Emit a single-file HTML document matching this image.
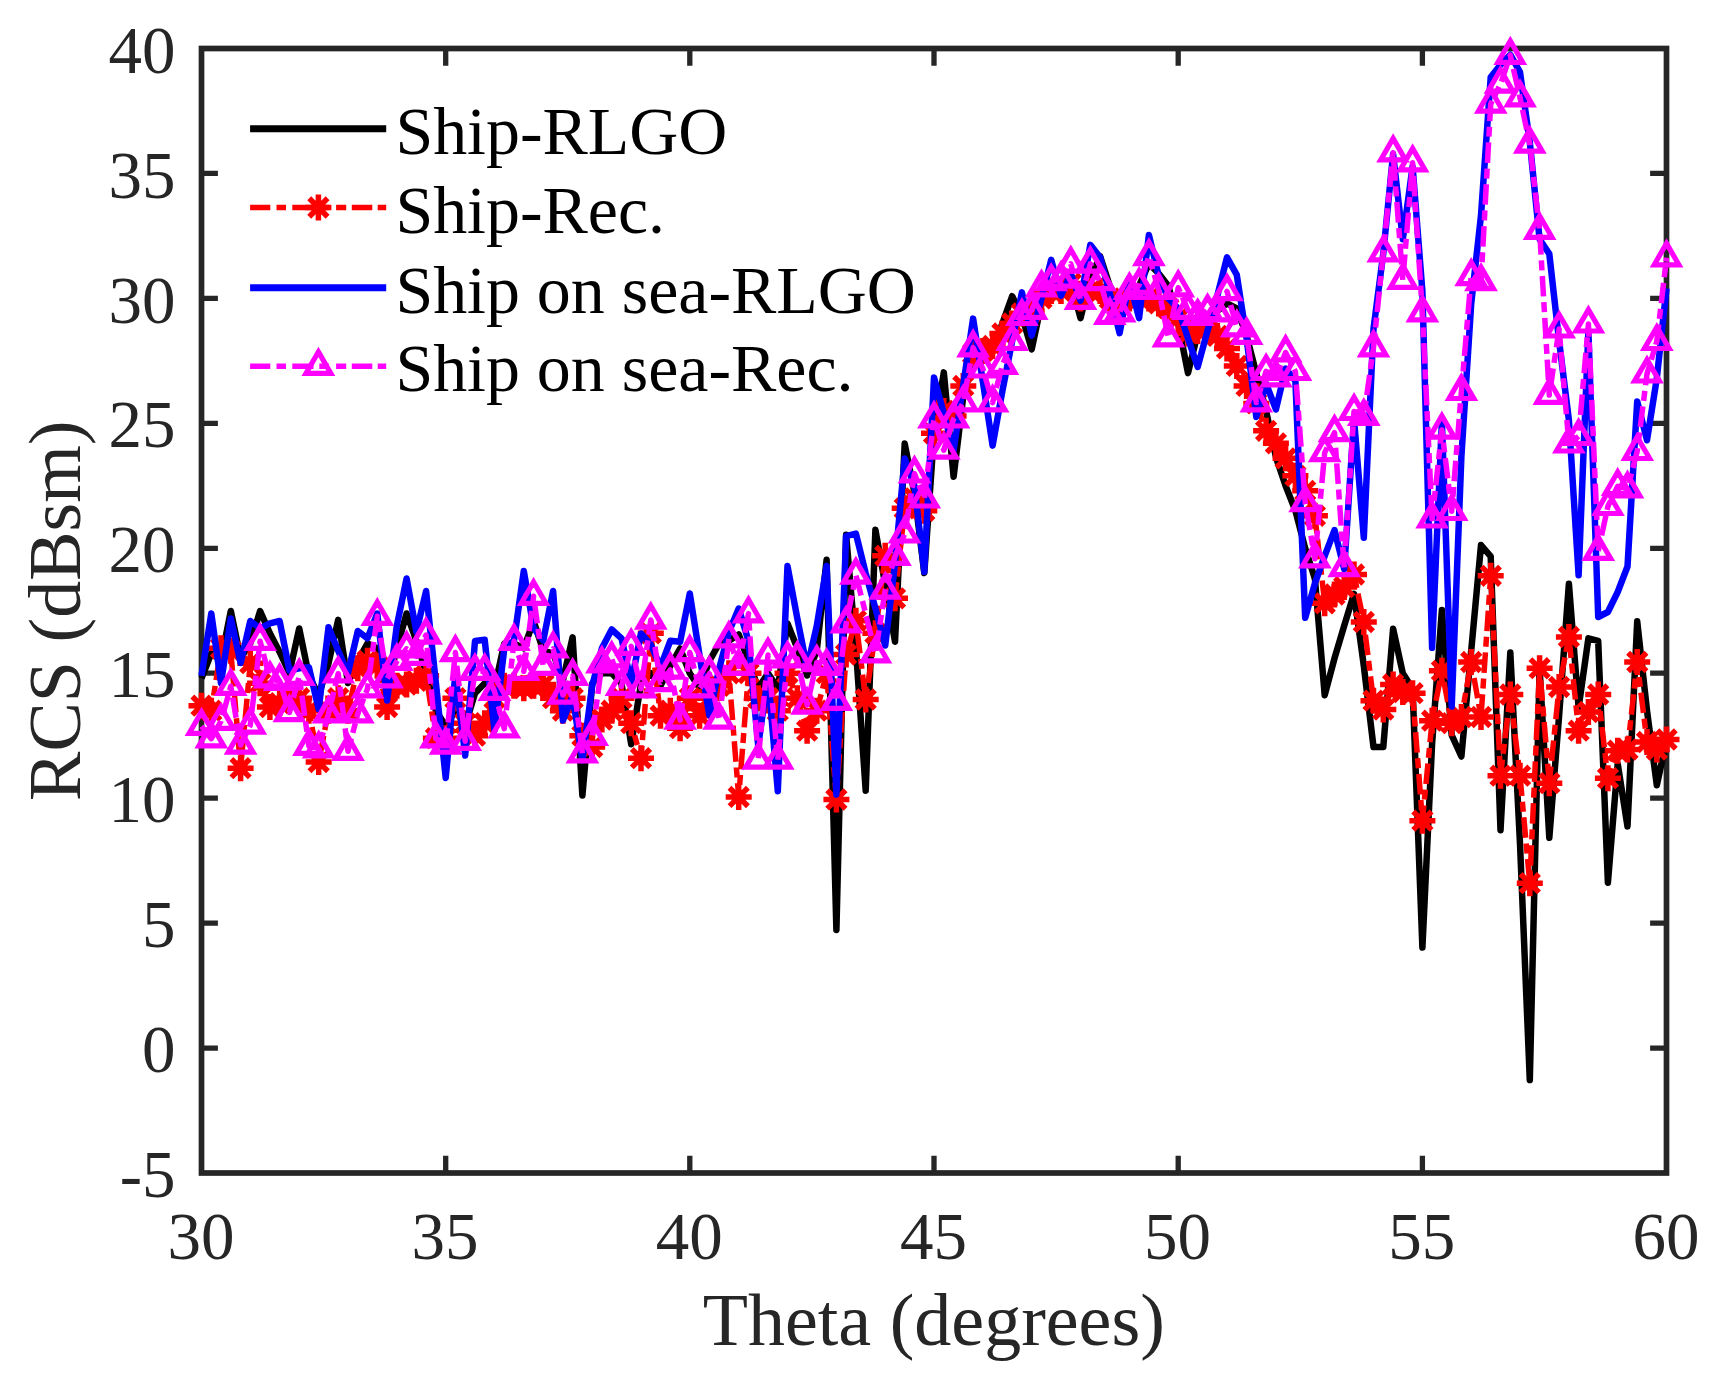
<!DOCTYPE html>
<html lang="en"><head><meta charset="utf-8"><title>RCS versus Theta</title>
<style>html,body{margin:0;padding:0;background:#fff}svg{display:block;filter:blur(0.6px)}text{font-family:"Liberation Serif","Times New Roman",serif;fill:#262626}</style></head><body>
<svg width="1722" height="1377" viewBox="0 0 1722 1377">
<rect width="1722" height="1377" fill="#fff"/>
<g fill="none" stroke-linejoin="round">
<path d="M445.7 1173.0v-17.2M445.7 48.5v17.2M689.8 1173.0v-17.2M689.8 48.5v17.2M934.0 1173.0v-17.2M934.0 48.5v17.2M1178.2 1173.0v-17.2M1178.2 48.5v17.2M1422.4 1173.0v-17.2M1422.4 48.5v17.2M201.5 1048.1h16.4M1666.5 1048.1h-16.4M201.5 923.1h16.4M1666.5 923.1h-16.4M201.5 798.2h16.4M1666.5 798.2h-16.4M201.5 673.2h16.4M1666.5 673.2h-16.4M201.5 548.3h16.4M1666.5 548.3h-16.4M201.5 423.3h16.4M1666.5 423.3h-16.4M201.5 298.4h16.4M1666.5 298.4h-16.4M201.5 173.4h16.4M1666.5 173.4h-16.4" stroke="#262626" stroke-width="5.3"/>
<rect x="201.5" y="48.5" width="1465.0" height="1124.5" stroke="#262626" stroke-width="5.7" stroke-linejoin="miter"/>
<polyline points="201.5,678.2 211.3,653.3 221.0,660.5 230.8,611.0 240.6,658.0 250.3,643.3 260.1,611.0 269.9,633.3 279.6,652.0 289.4,673.0 299.2,628.5 308.9,675.7 318.7,695.5 328.5,663.3 338.2,619.8 348.0,683.0 357.8,660.8 367.5,643.3 377.3,648.3 387.1,688.0 396.8,648.3 406.6,613.5 416.4,640.8 426.1,673.2 435.9,710.7 445.7,725.7 455.4,710.7 465.2,725.5 475.0,693.2 484.7,683.2 494.5,688.0 504.3,643.5 514.0,643.3 523.8,648.3 533.6,621.0 543.3,650.8 553.1,653.3 562.9,680.5 572.6,637.3 582.4,795.5 592.2,683.5 601.9,673.2 611.7,673.2 621.5,683.5 631.2,744.2 641.0,683.5 650.8,673.2 660.5,685.7 670.3,665.8 680.1,648.5 689.8,673.2 699.6,688.0 709.4,660.8 719.2,643.3 728.9,640.8 738.7,634.5 748.5,660.8 758.2,688.0 768.0,673.2 777.8,688.0 787.5,623.5 797.3,648.3 807.1,675.5 816.8,650.5 826.6,559.8 836.4,929.9 846.1,534.8 855.9,648.3 865.7,790.7 875.4,529.8 885.2,584.5 895.0,641.8 904.7,443.6 914.5,493.3 924.3,573.0 934.0,433.6 943.8,372.4 953.6,476.8 963.3,396.1 973.1,360.9 982.9,348.4 992.6,348.4 1002.4,323.4 1012.2,296.2 1021.9,315.9 1031.7,349.4 1041.5,303.4 1051.2,285.9 1061.0,290.9 1070.8,281.2 1080.5,318.1 1090.3,278.4 1100.1,256.2 1109.8,285.9 1119.6,303.4 1129.4,290.9 1139.1,285.9 1148.9,263.4 1158.7,273.4 1168.4,285.9 1178.2,323.4 1188.0,373.1 1197.7,333.4 1207.5,318.4 1217.3,310.9 1227.0,303.4 1236.8,308.4 1246.6,335.9 1256.3,373.4 1266.1,410.9 1275.9,457.1 1285.6,485.8 1295.4,510.8 1305.2,548.3 1314.9,578.8 1324.7,695.2 1334.5,658.3 1344.2,625.8 1354.0,593.8 1363.8,665.8 1373.5,747.0 1383.3,747.0 1393.1,628.8 1402.8,673.2 1412.6,688.7 1422.4,947.6 1432.1,743.7 1441.9,610.0 1451.7,735.2 1461.4,756.5 1471.2,650.8 1481.0,545.1 1490.7,556.3 1500.5,830.2 1510.3,652.5 1520.0,843.7 1529.8,1080.1 1539.6,668.8 1549.3,837.7 1559.1,715.7 1568.9,583.8 1578.6,707.7 1588.4,638.3 1598.2,640.8 1607.9,882.7 1617.7,763.7 1627.5,826.4 1637.2,621.3 1647.0,710.7 1656.8,785.2 1666.5,740.7" stroke="#000" stroke-width="6.5"/>
<polyline points="201.5,705.7 211.3,710.7 221.0,648.3 230.8,650.8 240.6,768.2 250.3,663.3 260.1,683.2 269.9,707.0 279.6,703.2 289.4,698.2 299.2,698.2 308.9,710.7 318.7,762.0 328.5,710.7 338.2,698.2 348.0,710.7 357.8,668.3 367.5,660.8 377.3,665.8 387.1,707.0 396.8,685.7 406.6,684.5 416.4,680.7 426.1,675.7 435.9,738.2 445.7,738.2 455.4,698.2 465.2,723.2 475.0,735.7 484.7,723.2 494.5,698.2 504.3,685.7 514.0,685.7 523.8,688.2 533.6,685.7 543.3,684.5 553.1,698.2 562.9,710.7 572.6,698.2 582.4,735.7 592.2,747.0 601.9,719.5 611.7,710.7 621.5,698.2 631.2,723.2 641.0,758.2 650.8,633.3 660.5,715.7 670.3,710.7 680.1,728.2 689.8,698.2 699.6,715.7 709.4,698.2 719.2,685.7 728.9,673.2 738.7,797.0 748.5,673.2 758.2,698.2 768.0,698.2 777.8,710.7 787.5,673.2 797.3,698.2 807.1,730.7 816.8,710.7 826.6,673.2 836.4,799.4 846.1,654.5 855.9,620.8 865.7,699.5 875.4,633.3 885.2,555.8 895.0,598.3 904.7,508.3 914.5,498.3 924.3,510.8 934.0,433.3 943.8,410.9 953.6,415.9 963.3,385.9 973.1,353.4 982.9,350.9 992.6,345.9 1002.4,333.4 1012.2,323.4 1021.9,313.4 1031.7,310.9 1041.5,298.4 1051.2,290.9 1061.0,290.9 1070.8,283.4 1080.5,298.4 1090.3,290.9 1100.1,290.9 1109.8,298.4 1119.6,303.4 1129.4,298.4 1139.1,298.4 1148.9,298.4 1158.7,303.4 1168.4,308.4 1178.2,318.4 1188.0,333.4 1197.7,330.9 1207.5,328.4 1217.3,335.9 1227.0,348.4 1236.8,365.9 1246.6,385.9 1256.3,403.4 1266.1,430.8 1275.9,443.3 1285.6,458.3 1295.4,475.8 1305.2,490.8 1314.9,515.8 1324.7,603.3 1334.5,594.5 1344.2,587.0 1354.0,574.5 1363.8,622.0 1373.5,700.7 1383.3,709.5 1393.1,684.5 1402.8,692.0 1412.6,693.2 1422.4,820.7 1432.1,720.7 1441.9,670.8 1451.7,723.2 1461.4,717.0 1471.2,662.0 1481.0,717.0 1490.7,575.8 1500.5,775.7 1510.3,694.5 1520.0,775.7 1529.8,883.2 1539.6,668.3 1549.3,783.2 1559.1,687.0 1568.9,637.0 1578.6,730.7 1588.4,712.0 1598.2,694.5 1607.9,778.2 1617.7,750.7 1627.5,749.5 1637.2,662.0 1647.0,742.0 1656.8,749.5 1666.5,739.5" stroke="#f00" stroke-width="5.5" stroke-dasharray="20.5 5.7 10 5.7"/>
<path d="M188.5 705.7h26.0M201.5 692.7v26.0M192.3 696.5l18.4 18.4M192.3 714.9l18.4 -18.4M198.3 710.7h26.0M211.3 697.7v26.0M202.1 701.5l18.4 18.4M202.1 719.9l18.4 -18.4M208.0 648.3h26.0M221.0 635.3v26.0M211.8 639.1l18.4 18.4M211.8 657.5l18.4 -18.4M217.8 650.8h26.0M230.8 637.8v26.0M221.6 641.6l18.4 18.4M221.6 660.0l18.4 -18.4M227.6 768.2h26.0M240.6 755.2v26.0M231.4 759.0l18.4 18.4M231.4 777.4l18.4 -18.4M237.3 663.3h26.0M250.3 650.3v26.0M241.1 654.1l18.4 18.4M241.1 672.4l18.4 -18.4M247.1 683.2h26.0M260.1 670.2v26.0M250.9 674.1l18.4 18.4M250.9 692.4l18.4 -18.4M256.9 707.0h26.0M269.9 694.0v26.0M260.7 697.8l18.4 18.4M260.7 716.2l18.4 -18.4M266.6 703.2h26.0M279.6 690.2v26.0M270.4 694.0l18.4 18.4M270.4 712.4l18.4 -18.4M276.4 698.2h26.0M289.4 685.2v26.0M280.2 689.0l18.4 18.4M280.2 707.4l18.4 -18.4M286.2 698.2h26.0M299.2 685.2v26.0M290.0 689.0l18.4 18.4M290.0 707.4l18.4 -18.4M295.9 710.7h26.0M308.9 697.7v26.0M299.7 701.5l18.4 18.4M299.7 719.9l18.4 -18.4M305.7 762.0h26.0M318.7 749.0v26.0M309.5 752.8l18.4 18.4M309.5 771.2l18.4 -18.4M315.5 710.7h26.0M328.5 697.7v26.0M319.3 701.5l18.4 18.4M319.3 719.9l18.4 -18.4M325.2 698.2h26.0M338.2 685.2v26.0M329.0 689.0l18.4 18.4M329.0 707.4l18.4 -18.4M335.0 710.7h26.0M348.0 697.7v26.0M338.8 701.5l18.4 18.4M338.8 719.9l18.4 -18.4M344.8 668.3h26.0M357.8 655.3v26.0M348.6 659.1l18.4 18.4M348.6 677.4l18.4 -18.4M354.5 660.8h26.0M367.5 647.8v26.0M358.3 651.6l18.4 18.4M358.3 669.9l18.4 -18.4M364.3 665.8h26.0M377.3 652.8v26.0M368.1 656.6l18.4 18.4M368.1 674.9l18.4 -18.4M374.1 707.0h26.0M387.1 694.0v26.0M377.9 697.8l18.4 18.4M377.9 716.2l18.4 -18.4M383.8 685.7h26.0M396.8 672.7v26.0M387.6 676.6l18.4 18.4M387.6 694.9l18.4 -18.4M393.6 684.5h26.0M406.6 671.5v26.0M397.4 675.3l18.4 18.4M397.4 693.7l18.4 -18.4M403.4 680.7h26.0M416.4 667.7v26.0M407.2 671.6l18.4 18.4M407.2 689.9l18.4 -18.4M413.1 675.7h26.0M426.1 662.7v26.0M416.9 666.6l18.4 18.4M416.9 684.9l18.4 -18.4M422.9 738.2h26.0M435.9 725.2v26.0M426.7 729.0l18.4 18.4M426.7 747.4l18.4 -18.4M432.7 738.2h26.0M445.7 725.2v26.0M436.5 729.0l18.4 18.4M436.5 747.4l18.4 -18.4M442.4 698.2h26.0M455.4 685.2v26.0M446.2 689.0l18.4 18.4M446.2 707.4l18.4 -18.4M452.2 723.2h26.0M465.2 710.2v26.0M456.0 714.0l18.4 18.4M456.0 732.4l18.4 -18.4M462.0 735.7h26.0M475.0 722.7v26.0M465.8 726.5l18.4 18.4M465.8 744.9l18.4 -18.4M471.7 723.2h26.0M484.7 710.2v26.0M475.6 714.0l18.4 18.4M475.6 732.4l18.4 -18.4M481.5 698.2h26.0M494.5 685.2v26.0M485.3 689.0l18.4 18.4M485.3 707.4l18.4 -18.4M491.3 685.7h26.0M504.3 672.7v26.0M495.1 676.6l18.4 18.4M495.1 694.9l18.4 -18.4M501.0 685.7h26.0M514.0 672.7v26.0M504.9 676.6l18.4 18.4M504.9 694.9l18.4 -18.4M510.8 688.2h26.0M523.8 675.2v26.0M514.6 679.1l18.4 18.4M514.6 697.4l18.4 -18.4M520.6 685.7h26.0M533.6 672.7v26.0M524.4 676.6l18.4 18.4M524.4 694.9l18.4 -18.4M530.3 684.5h26.0M543.3 671.5v26.0M534.2 675.3l18.4 18.4M534.2 693.7l18.4 -18.4M540.1 698.2h26.0M553.1 685.2v26.0M543.9 689.0l18.4 18.4M543.9 707.4l18.4 -18.4M549.9 710.7h26.0M562.9 697.7v26.0M553.7 701.5l18.4 18.4M553.7 719.9l18.4 -18.4M559.6 698.2h26.0M572.6 685.2v26.0M563.5 689.0l18.4 18.4M563.5 707.4l18.4 -18.4M569.4 735.7h26.0M582.4 722.7v26.0M573.2 726.5l18.4 18.4M573.2 744.9l18.4 -18.4M579.2 747.0h26.0M592.2 734.0v26.0M583.0 737.8l18.4 18.4M583.0 756.2l18.4 -18.4M588.9 719.5h26.0M601.9 706.5v26.0M592.8 710.3l18.4 18.4M592.8 728.7l18.4 -18.4M598.7 710.7h26.0M611.7 697.7v26.0M602.5 701.5l18.4 18.4M602.5 719.9l18.4 -18.4M608.5 698.2h26.0M621.5 685.2v26.0M612.3 689.0l18.4 18.4M612.3 707.4l18.4 -18.4M618.2 723.2h26.0M631.2 710.2v26.0M622.1 714.0l18.4 18.4M622.1 732.4l18.4 -18.4M628.0 758.2h26.0M641.0 745.2v26.0M631.8 749.0l18.4 18.4M631.8 767.4l18.4 -18.4M637.8 633.3h26.0M650.8 620.3v26.0M641.6 624.1l18.4 18.4M641.6 642.5l18.4 -18.4M647.5 715.7h26.0M660.5 702.7v26.0M651.4 706.5l18.4 18.4M651.4 724.9l18.4 -18.4M657.3 710.7h26.0M670.3 697.7v26.0M661.1 701.5l18.4 18.4M661.1 719.9l18.4 -18.4M667.1 728.2h26.0M680.1 715.2v26.0M670.9 719.0l18.4 18.4M670.9 737.4l18.4 -18.4M676.8 698.2h26.0M689.8 685.2v26.0M680.7 689.0l18.4 18.4M680.7 707.4l18.4 -18.4M686.6 715.7h26.0M699.6 702.7v26.0M690.4 706.5l18.4 18.4M690.4 724.9l18.4 -18.4M696.4 698.2h26.0M709.4 685.2v26.0M700.2 689.0l18.4 18.4M700.2 707.4l18.4 -18.4M706.2 685.7h26.0M719.2 672.7v26.0M710.0 676.6l18.4 18.4M710.0 694.9l18.4 -18.4M715.9 673.2h26.0M728.9 660.2v26.0M719.7 664.1l18.4 18.4M719.7 682.4l18.4 -18.4M725.7 797.0h26.0M738.7 784.0v26.0M729.5 787.8l18.4 18.4M729.5 806.1l18.4 -18.4M735.5 673.2h26.0M748.5 660.2v26.0M739.3 664.1l18.4 18.4M739.3 682.4l18.4 -18.4M745.2 698.2h26.0M758.2 685.2v26.0M749.0 689.0l18.4 18.4M749.0 707.4l18.4 -18.4M755.0 698.2h26.0M768.0 685.2v26.0M758.8 689.0l18.4 18.4M758.8 707.4l18.4 -18.4M764.8 710.7h26.0M777.8 697.7v26.0M768.6 701.5l18.4 18.4M768.6 719.9l18.4 -18.4M774.5 673.2h26.0M787.5 660.2v26.0M778.3 664.1l18.4 18.4M778.3 682.4l18.4 -18.4M784.3 698.2h26.0M797.3 685.2v26.0M788.1 689.0l18.4 18.4M788.1 707.4l18.4 -18.4M794.1 730.7h26.0M807.1 717.7v26.0M797.9 721.5l18.4 18.4M797.9 739.9l18.4 -18.4M803.8 710.7h26.0M816.8 697.7v26.0M807.6 701.5l18.4 18.4M807.6 719.9l18.4 -18.4M813.6 673.2h26.0M826.6 660.2v26.0M817.4 664.1l18.4 18.4M817.4 682.4l18.4 -18.4M823.4 799.4h26.0M836.4 786.4v26.0M827.2 790.3l18.4 18.4M827.2 808.6l18.4 -18.4M833.1 654.5h26.0M846.1 641.5v26.0M836.9 645.3l18.4 18.4M836.9 663.7l18.4 -18.4M842.9 620.8h26.0M855.9 607.8v26.0M846.7 611.6l18.4 18.4M846.7 630.0l18.4 -18.4M852.7 699.5h26.0M865.7 686.5v26.0M856.5 690.3l18.4 18.4M856.5 708.7l18.4 -18.4M862.4 633.3h26.0M875.4 620.3v26.0M866.2 624.1l18.4 18.4M866.2 642.5l18.4 -18.4M872.2 555.8h26.0M885.2 542.8v26.0M876.0 546.6l18.4 18.4M876.0 565.0l18.4 -18.4M882.0 598.3h26.0M895.0 585.3v26.0M885.8 589.1l18.4 18.4M885.8 607.5l18.4 -18.4M891.7 508.3h26.0M904.7 495.3v26.0M895.5 499.1l18.4 18.4M895.5 517.5l18.4 -18.4M901.5 498.3h26.0M914.5 485.3v26.0M905.3 489.1l18.4 18.4M905.3 507.5l18.4 -18.4M911.3 510.8h26.0M924.3 497.8v26.0M915.1 501.6l18.4 18.4M915.1 520.0l18.4 -18.4M921.0 433.3h26.0M934.0 420.3v26.0M924.8 424.2l18.4 18.4M924.8 442.5l18.4 -18.4M930.8 410.9h26.0M943.8 397.9v26.0M934.6 401.7l18.4 18.4M934.6 420.0l18.4 -18.4M940.6 415.9h26.0M953.6 402.9v26.0M944.4 406.7l18.4 18.4M944.4 425.0l18.4 -18.4M950.3 385.9h26.0M963.3 372.9v26.0M954.1 376.7l18.4 18.4M954.1 395.1l18.4 -18.4M960.1 353.4h26.0M973.1 340.4v26.0M963.9 344.2l18.4 18.4M963.9 362.6l18.4 -18.4M969.9 350.9h26.0M982.9 337.9v26.0M973.7 341.7l18.4 18.4M973.7 360.1l18.4 -18.4M979.6 345.9h26.0M992.6 332.9v26.0M983.4 336.7l18.4 18.4M983.4 355.1l18.4 -18.4M989.4 333.4h26.0M1002.4 320.4v26.0M993.2 324.2l18.4 18.4M993.2 342.6l18.4 -18.4M999.2 323.4h26.0M1012.2 310.4v26.0M1003.0 314.2l18.4 18.4M1003.0 332.6l18.4 -18.4M1008.9 313.4h26.0M1021.9 300.4v26.0M1012.7 304.2l18.4 18.4M1012.7 322.6l18.4 -18.4M1018.7 310.9h26.0M1031.7 297.9v26.0M1022.5 301.7l18.4 18.4M1022.5 320.1l18.4 -18.4M1028.5 298.4h26.0M1041.5 285.4v26.0M1032.3 289.2l18.4 18.4M1032.3 307.6l18.4 -18.4M1038.2 290.9h26.0M1051.2 277.9v26.0M1042.0 281.7l18.4 18.4M1042.0 300.1l18.4 -18.4M1048.0 290.9h26.0M1061.0 277.9v26.0M1051.8 281.7l18.4 18.4M1051.8 300.1l18.4 -18.4M1057.8 283.4h26.0M1070.8 270.4v26.0M1061.6 274.2l18.4 18.4M1061.6 292.6l18.4 -18.4M1067.5 298.4h26.0M1080.5 285.4v26.0M1071.3 289.2l18.4 18.4M1071.3 307.6l18.4 -18.4M1077.3 290.9h26.0M1090.3 277.9v26.0M1081.1 281.7l18.4 18.4M1081.1 300.1l18.4 -18.4M1087.1 290.9h26.0M1100.1 277.9v26.0M1090.9 281.7l18.4 18.4M1090.9 300.1l18.4 -18.4M1096.8 298.4h26.0M1109.8 285.4v26.0M1100.6 289.2l18.4 18.4M1100.6 307.6l18.4 -18.4M1106.6 303.4h26.0M1119.6 290.4v26.0M1110.4 294.2l18.4 18.4M1110.4 312.6l18.4 -18.4M1116.4 298.4h26.0M1129.4 285.4v26.0M1120.2 289.2l18.4 18.4M1120.2 307.6l18.4 -18.4M1126.1 298.4h26.0M1139.1 285.4v26.0M1129.9 289.2l18.4 18.4M1129.9 307.6l18.4 -18.4M1135.9 298.4h26.0M1148.9 285.4v26.0M1139.7 289.2l18.4 18.4M1139.7 307.6l18.4 -18.4M1145.7 303.4h26.0M1158.7 290.4v26.0M1149.5 294.2l18.4 18.4M1149.5 312.6l18.4 -18.4M1155.4 308.4h26.0M1168.4 295.4v26.0M1159.2 299.2l18.4 18.4M1159.2 317.6l18.4 -18.4M1165.2 318.4h26.0M1178.2 305.4v26.0M1169.0 309.2l18.4 18.4M1169.0 327.6l18.4 -18.4M1175.0 333.4h26.0M1188.0 320.4v26.0M1178.8 324.2l18.4 18.4M1178.8 342.6l18.4 -18.4M1184.7 330.9h26.0M1197.7 317.9v26.0M1188.5 321.7l18.4 18.4M1188.5 340.1l18.4 -18.4M1194.5 328.4h26.0M1207.5 315.4v26.0M1198.3 319.2l18.4 18.4M1198.3 337.6l18.4 -18.4M1204.3 335.9h26.0M1217.3 322.9v26.0M1208.1 326.7l18.4 18.4M1208.1 345.1l18.4 -18.4M1214.0 348.4h26.0M1227.0 335.4v26.0M1217.8 339.2l18.4 18.4M1217.8 357.6l18.4 -18.4M1223.8 365.9h26.0M1236.8 352.9v26.0M1227.6 356.7l18.4 18.4M1227.6 375.1l18.4 -18.4M1233.6 385.9h26.0M1246.6 372.9v26.0M1237.4 376.7l18.4 18.4M1237.4 395.1l18.4 -18.4M1243.3 403.4h26.0M1256.3 390.4v26.0M1247.1 394.2l18.4 18.4M1247.1 412.6l18.4 -18.4M1253.1 430.8h26.0M1266.1 417.8v26.0M1256.9 421.7l18.4 18.4M1256.9 440.0l18.4 -18.4M1262.9 443.3h26.0M1275.9 430.3v26.0M1266.7 434.1l18.4 18.4M1266.7 452.5l18.4 -18.4M1272.6 458.3h26.0M1285.6 445.3v26.0M1276.4 449.1l18.4 18.4M1276.4 467.5l18.4 -18.4M1282.4 475.8h26.0M1295.4 462.8v26.0M1286.2 466.6l18.4 18.4M1286.2 485.0l18.4 -18.4M1292.2 490.8h26.0M1305.2 477.8v26.0M1296.0 481.6l18.4 18.4M1296.0 500.0l18.4 -18.4M1301.9 515.8h26.0M1314.9 502.8v26.0M1305.7 506.6l18.4 18.4M1305.7 525.0l18.4 -18.4M1311.7 603.3h26.0M1324.7 590.3v26.0M1315.5 594.1l18.4 18.4M1315.5 612.5l18.4 -18.4M1321.5 594.5h26.0M1334.5 581.5v26.0M1325.3 585.3l18.4 18.4M1325.3 603.7l18.4 -18.4M1331.2 587.0h26.0M1344.2 574.0v26.0M1335.0 577.8l18.4 18.4M1335.0 596.2l18.4 -18.4M1341.0 574.5h26.0M1354.0 561.5v26.0M1344.8 565.3l18.4 18.4M1344.8 583.7l18.4 -18.4M1350.8 622.0h26.0M1363.8 609.0v26.0M1354.6 612.8l18.4 18.4M1354.6 631.2l18.4 -18.4M1360.5 700.7h26.0M1373.5 687.7v26.0M1364.3 691.5l18.4 18.4M1364.3 709.9l18.4 -18.4M1370.3 709.5h26.0M1383.3 696.5v26.0M1374.1 700.3l18.4 18.4M1374.1 718.7l18.4 -18.4M1380.1 684.5h26.0M1393.1 671.5v26.0M1383.9 675.3l18.4 18.4M1383.9 693.7l18.4 -18.4M1389.8 692.0h26.0M1402.8 679.0v26.0M1393.6 682.8l18.4 18.4M1393.6 701.2l18.4 -18.4M1399.6 693.2h26.0M1412.6 680.2v26.0M1403.4 684.0l18.4 18.4M1403.4 702.4l18.4 -18.4M1409.4 820.7h26.0M1422.4 807.7v26.0M1413.2 811.5l18.4 18.4M1413.2 829.9l18.4 -18.4M1419.1 720.7h26.0M1432.1 707.7v26.0M1422.9 711.5l18.4 18.4M1422.9 729.9l18.4 -18.4M1428.9 670.8h26.0M1441.9 657.8v26.0M1432.7 661.6l18.4 18.4M1432.7 679.9l18.4 -18.4M1438.7 723.2h26.0M1451.7 710.2v26.0M1442.5 714.0l18.4 18.4M1442.5 732.4l18.4 -18.4M1448.4 717.0h26.0M1461.4 704.0v26.0M1452.3 707.8l18.4 18.4M1452.3 726.2l18.4 -18.4M1458.2 662.0h26.0M1471.2 649.0v26.0M1462.0 652.8l18.4 18.4M1462.0 671.2l18.4 -18.4M1468.0 717.0h26.0M1481.0 704.0v26.0M1471.8 707.8l18.4 18.4M1471.8 726.2l18.4 -18.4M1477.7 575.8h26.0M1490.7 562.8v26.0M1481.6 566.6l18.4 18.4M1481.6 585.0l18.4 -18.4M1487.5 775.7h26.0M1500.5 762.7v26.0M1491.3 766.5l18.4 18.4M1491.3 784.9l18.4 -18.4M1497.3 694.5h26.0M1510.3 681.5v26.0M1501.1 685.3l18.4 18.4M1501.1 703.7l18.4 -18.4M1507.0 775.7h26.0M1520.0 762.7v26.0M1510.9 766.5l18.4 18.4M1510.9 784.9l18.4 -18.4M1516.8 883.2h26.0M1529.8 870.2v26.0M1520.6 874.0l18.4 18.4M1520.6 892.4l18.4 -18.4M1526.6 668.3h26.0M1539.6 655.3v26.0M1530.4 659.1l18.4 18.4M1530.4 677.4l18.4 -18.4M1536.3 783.2h26.0M1549.3 770.2v26.0M1540.2 774.0l18.4 18.4M1540.2 792.4l18.4 -18.4M1546.1 687.0h26.0M1559.1 674.0v26.0M1549.9 677.8l18.4 18.4M1549.9 696.2l18.4 -18.4M1555.9 637.0h26.0M1568.9 624.0v26.0M1559.7 627.8l18.4 18.4M1559.7 646.2l18.4 -18.4M1565.6 730.7h26.0M1578.6 717.7v26.0M1569.5 721.5l18.4 18.4M1569.5 739.9l18.4 -18.4M1575.4 712.0h26.0M1588.4 699.0v26.0M1579.2 702.8l18.4 18.4M1579.2 721.2l18.4 -18.4M1585.2 694.5h26.0M1598.2 681.5v26.0M1589.0 685.3l18.4 18.4M1589.0 703.7l18.4 -18.4M1594.9 778.2h26.0M1607.9 765.2v26.0M1598.8 769.0l18.4 18.4M1598.8 787.4l18.4 -18.4M1604.7 750.7h26.0M1617.7 737.7v26.0M1608.5 741.5l18.4 18.4M1608.5 759.9l18.4 -18.4M1614.5 749.5h26.0M1627.5 736.5v26.0M1618.3 740.3l18.4 18.4M1618.3 758.7l18.4 -18.4M1624.2 662.0h26.0M1637.2 649.0v26.0M1628.1 652.8l18.4 18.4M1628.1 671.2l18.4 -18.4M1634.0 742.0h26.0M1647.0 729.0v26.0M1637.8 732.8l18.4 18.4M1637.8 751.2l18.4 -18.4M1643.8 749.5h26.0M1656.8 736.5v26.0M1647.6 740.3l18.4 18.4M1647.6 758.7l18.4 -18.4M1653.5 739.5h26.0M1666.5 726.5v26.0M1657.4 730.3l18.4 18.4M1657.4 748.7l18.4 -18.4" stroke="#f00" stroke-width="5.5"/>
<polyline points="201.5,675.7 211.3,613.5 221.0,683.0 230.8,618.5 240.6,663.0 250.3,621.0 260.1,628.3 269.9,623.3 279.6,621.0 289.4,670.5 299.2,668.3 308.9,667.3 318.7,709.2 328.5,627.3 338.2,650.8 348.0,673.0 357.8,631.0 367.5,638.3 377.3,613.5 387.1,700.5 396.8,625.8 406.6,578.5 416.4,631.8 426.1,591.0 435.9,683.2 445.7,778.0 455.4,673.5 465.2,755.5 475.0,641.0 484.7,639.8 494.5,730.5 504.3,648.5 514.0,640.5 523.8,571.0 533.6,628.0 543.3,640.5 553.1,591.0 562.9,720.5 572.6,696.0 582.4,760.5 592.2,685.7 601.9,648.3 611.7,629.5 621.5,638.3 631.2,683.0 641.0,633.5 650.8,644.5 660.5,666.8 670.3,640.8 680.1,641.8 689.8,593.5 699.6,655.8 709.4,715.5 719.2,668.3 728.9,632.0 738.7,608.5 748.5,641.0 758.2,745.5 768.0,676.0 777.8,791.2 787.5,566.0 797.3,618.3 807.1,668.0 816.8,625.8 826.6,566.0 836.4,794.5 846.1,536.1 855.9,533.6 865.7,573.3 875.4,608.3 885.2,645.5 895.0,563.3 904.7,458.6 914.5,486.1 924.3,571.8 934.0,377.4 943.8,413.4 953.6,450.6 963.3,384.6 973.1,318.6 982.9,382.1 992.6,445.6 1002.4,390.9 1012.2,340.9 1021.9,292.4 1031.7,335.6 1041.5,298.4 1051.2,259.9 1061.0,295.7 1070.8,273.7 1080.5,300.6 1090.3,244.9 1100.1,257.2 1109.8,293.4 1119.6,333.1 1129.4,281.2 1139.1,318.1 1148.9,234.9 1158.7,275.9 1168.4,298.4 1178.2,308.4 1188.0,338.4 1197.7,366.9 1207.5,330.9 1217.3,295.9 1227.0,257.4 1236.8,274.9 1246.6,338.4 1256.3,416.9 1266.1,383.6 1275.9,409.4 1285.6,368.6 1295.4,381.1 1305.2,617.8 1314.9,583.3 1324.7,555.8 1334.5,530.1 1344.2,569.0 1354.0,418.9 1363.8,537.8 1373.5,328.9 1383.3,253.4 1393.1,154.0 1402.8,239.2 1412.6,166.5 1422.4,291.4 1432.1,647.8 1441.9,421.4 1451.7,706.5 1461.4,456.3 1471.2,303.9 1481.0,215.4 1490.7,77.2 1500.5,64.7 1510.3,54.7 1520.0,72.2 1529.8,142.2 1539.6,239.2 1549.3,253.9 1559.1,340.9 1568.9,420.1 1578.6,575.3 1588.4,331.4 1598.2,617.0 1607.9,612.0 1617.7,592.0 1627.5,566.5 1637.2,401.4 1647.0,440.3 1656.8,378.4 1666.5,288.4" stroke="#00f" stroke-width="6.5"/>
<polyline points="201.5,726.2 211.3,738.7 221.0,721.2 230.8,686.2 240.6,745.0 250.3,725.0 260.1,641.3 269.9,678.7 279.6,681.2 289.4,712.5 299.2,676.2 308.9,746.2 318.7,748.7 328.5,713.7 338.2,673.7 348.0,751.2 357.8,713.7 367.5,688.7 377.3,616.3 387.1,678.7 396.8,661.3 406.6,648.8 416.4,656.3 426.1,635.0 435.9,738.7 445.7,745.0 455.4,652.5 465.2,741.2 475.0,671.3 484.7,671.3 494.5,691.2 504.3,728.7 514.0,641.3 523.8,671.3 533.6,596.3 543.3,666.3 553.1,648.8 562.9,695.0 572.6,676.2 582.4,753.7 592.2,736.2 601.9,663.8 611.7,658.8 621.5,686.2 631.2,646.3 641.0,688.7 650.8,620.0 660.5,682.5 670.3,670.0 680.1,720.0 689.8,652.5 699.6,688.7 709.4,673.7 719.2,720.0 728.9,638.8 738.7,666.3 748.5,613.8 758.2,760.0 768.0,655.0 777.8,760.0 787.5,658.8 797.3,658.8 807.1,705.0 816.8,662.5 826.6,666.3 836.4,701.2 846.1,623.8 855.9,575.0 865.7,613.8 875.4,653.8 885.2,590.0 895.0,556.3 904.7,533.8 914.5,473.8 924.3,498.8 934.0,418.9 943.8,450.1 953.6,418.9 963.3,402.6 973.1,347.6 982.9,368.9 992.6,402.6 1002.4,365.1 1012.2,341.4 1021.9,316.4 1031.7,310.1 1041.5,287.7 1051.2,281.4 1061.0,278.9 1070.8,263.9 1080.5,300.1 1090.3,263.9 1100.1,281.4 1109.8,315.1 1119.6,312.6 1129.4,290.2 1139.1,285.2 1148.9,256.4 1158.7,290.2 1168.4,337.6 1178.2,287.7 1188.0,310.1 1197.7,316.4 1207.5,311.4 1217.3,312.6 1227.0,291.4 1236.8,327.6 1246.6,335.1 1256.3,402.6 1266.1,371.4 1275.9,377.6 1285.6,352.6 1295.4,371.4 1305.2,502.6 1314.9,558.8 1324.7,452.6 1334.5,432.6 1344.2,567.5 1354.0,411.4 1363.8,416.4 1373.5,347.6 1383.3,252.7 1393.1,152.7 1402.8,280.2 1412.6,162.7 1422.4,312.6 1432.1,518.8 1441.9,430.1 1451.7,511.3 1461.4,391.4 1471.2,276.4 1481.0,281.4 1490.7,104.0 1500.5,84.0 1510.3,55.2 1520.0,97.7 1529.8,144.0 1539.6,230.2 1549.3,395.1 1559.1,328.9 1568.9,443.8 1578.6,436.3 1588.4,323.9 1598.2,551.3 1607.9,506.3 1617.7,486.3 1627.5,488.8 1637.2,451.3 1647.0,373.9 1656.8,341.4 1666.5,257.7" stroke="#f0f" stroke-width="5.5" stroke-dasharray="20.5 5.7 10 5.7"/>
<path d="M201.5 711.9L213.9 733.4L189.1 733.4ZM211.3 724.4L223.7 745.9L198.9 745.9ZM221.0 706.9L233.4 728.4L208.6 728.4ZM230.8 671.9L243.2 693.4L218.4 693.4ZM240.6 730.7L253.0 752.1L228.2 752.1ZM250.3 710.7L262.7 732.1L238.0 732.1ZM260.1 627.0L272.5 648.4L247.7 648.4ZM269.9 664.4L282.3 685.9L257.5 685.9ZM279.6 666.9L292.0 688.4L267.3 688.4ZM289.4 698.2L301.8 719.6L277.0 719.6ZM299.2 661.9L311.6 683.4L286.8 683.4ZM308.9 731.9L321.3 753.4L296.6 753.4ZM318.7 734.4L331.1 755.9L306.3 755.9ZM328.5 699.4L340.9 720.9L316.1 720.9ZM338.2 659.4L350.6 680.9L325.9 680.9ZM348.0 736.9L360.4 758.4L335.6 758.4ZM357.8 699.4L370.2 720.9L345.4 720.9ZM367.5 674.4L379.9 695.9L355.2 695.9ZM377.3 602.0L389.7 623.4L364.9 623.4ZM387.1 664.4L399.5 685.9L374.7 685.9ZM396.8 647.0L409.2 668.4L384.5 668.4ZM406.6 634.5L419.0 655.9L394.2 655.9ZM416.4 642.0L428.8 663.4L404.0 663.4ZM426.1 620.7L438.5 642.2L413.8 642.2ZM435.9 724.4L448.3 745.9L423.5 745.9ZM445.7 730.7L458.1 752.1L433.3 752.1ZM455.4 638.2L467.8 659.7L443.1 659.7ZM465.2 726.9L477.6 748.4L452.8 748.4ZM475.0 657.0L487.4 678.4L462.6 678.4ZM484.7 657.0L497.1 678.4L472.4 678.4ZM494.5 676.9L506.9 698.4L482.1 698.4ZM504.3 714.4L516.7 735.9L491.9 735.9ZM514.0 627.0L526.4 648.4L501.7 648.4ZM523.8 657.0L536.2 678.4L511.4 678.4ZM533.6 582.0L546.0 603.4L521.2 603.4ZM543.3 652.0L555.7 673.4L531.0 673.4ZM553.1 634.5L565.5 655.9L540.7 655.9ZM562.9 680.7L575.3 702.1L550.5 702.1ZM572.6 661.9L585.0 683.4L560.3 683.4ZM582.4 739.4L594.8 760.9L570.0 760.9ZM592.2 721.9L604.6 743.4L579.8 743.4ZM601.9 649.5L614.3 670.9L589.6 670.9ZM611.7 644.5L624.1 665.9L599.3 665.9ZM621.5 671.9L633.9 693.4L609.1 693.4ZM631.2 632.0L643.6 653.4L618.9 653.4ZM641.0 674.4L653.4 695.9L628.6 695.9ZM650.8 605.7L663.2 627.2L638.4 627.2ZM660.5 668.2L672.9 689.6L648.2 689.6ZM670.3 655.7L682.7 677.2L657.9 677.2ZM680.1 705.7L692.5 727.1L667.7 727.1ZM689.8 638.2L702.2 659.7L677.5 659.7ZM699.6 674.4L712.0 695.9L687.2 695.9ZM709.4 659.4L721.8 680.9L697.0 680.9ZM719.2 705.7L731.5 727.1L706.8 727.1ZM728.9 624.5L741.3 645.9L716.5 645.9ZM738.7 652.0L751.1 673.4L726.3 673.4ZM748.5 599.5L760.8 620.9L736.1 620.9ZM758.2 745.7L770.6 767.1L745.8 767.1ZM768.0 640.7L780.4 662.2L755.6 662.2ZM777.8 745.7L790.1 767.1L765.4 767.1ZM787.5 644.5L799.9 665.9L775.1 665.9ZM797.3 644.5L809.7 665.9L784.9 665.9ZM807.1 690.7L819.4 712.1L794.7 712.1ZM816.8 648.2L829.2 669.7L804.4 669.7ZM826.6 652.0L839.0 673.4L814.2 673.4ZM836.4 686.9L848.7 708.4L824.0 708.4ZM846.1 609.5L858.5 630.9L833.7 630.9ZM855.9 560.7L868.3 582.2L843.5 582.2ZM875.4 639.5L887.8 660.9L863.0 660.9ZM885.2 575.7L897.6 597.2L872.8 597.2ZM895.0 542.0L907.3 563.4L882.6 563.4ZM904.7 519.5L917.1 541.0L892.3 541.0ZM914.5 459.5L926.9 481.0L902.1 481.0ZM924.3 484.5L936.6 506.0L911.9 506.0ZM934.0 404.6L946.4 426.0L921.6 426.0ZM943.8 435.8L956.2 457.2L931.4 457.2ZM953.6 404.6L965.9 426.0L941.2 426.0ZM963.3 388.3L975.7 409.8L950.9 409.8ZM973.1 333.3L985.5 354.8L960.7 354.8ZM982.9 354.6L995.2 376.0L970.5 376.0ZM992.6 388.3L1005.0 409.8L980.2 409.8ZM1002.4 350.8L1014.8 372.3L990.0 372.3ZM1012.2 327.1L1024.5 348.5L999.8 348.5ZM1021.9 302.1L1034.3 323.5L1009.5 323.5ZM1031.7 295.8L1044.1 317.3L1019.3 317.3ZM1041.5 273.4L1053.8 294.8L1029.1 294.8ZM1051.2 267.1L1063.6 288.6L1038.8 288.6ZM1061.0 264.6L1073.4 286.1L1048.6 286.1ZM1070.8 249.6L1083.1 271.1L1058.4 271.1ZM1080.5 285.8L1092.9 307.3L1068.1 307.3ZM1090.3 249.6L1102.7 271.1L1077.9 271.1ZM1100.1 267.1L1112.4 288.6L1087.7 288.6ZM1109.8 300.8L1122.2 322.3L1097.4 322.3ZM1119.6 298.3L1132.0 319.8L1107.2 319.8ZM1129.4 275.9L1141.7 297.3L1117.0 297.3ZM1139.1 270.9L1151.5 292.3L1126.7 292.3ZM1148.9 242.1L1161.3 263.6L1136.5 263.6ZM1158.7 275.9L1171.1 297.3L1146.3 297.3ZM1168.4 323.3L1180.8 344.8L1156.0 344.8ZM1178.2 273.4L1190.6 294.8L1165.8 294.8ZM1188.0 295.8L1200.4 317.3L1175.6 317.3ZM1197.7 302.1L1210.1 323.5L1185.3 323.5ZM1207.5 297.1L1219.9 318.5L1195.1 318.5ZM1217.3 298.3L1229.7 319.8L1204.9 319.8ZM1227.0 277.1L1239.4 298.6L1214.7 298.6ZM1236.8 313.3L1249.2 334.8L1224.4 334.8ZM1246.6 320.8L1259.0 342.3L1234.2 342.3ZM1256.3 388.3L1268.7 409.8L1244.0 409.8ZM1266.1 357.1L1278.5 378.5L1253.7 378.5ZM1275.9 363.3L1288.3 384.8L1263.5 384.8ZM1285.6 338.3L1298.0 359.8L1273.3 359.8ZM1295.4 357.1L1307.8 378.5L1283.0 378.5ZM1305.2 488.3L1317.6 509.7L1292.8 509.7ZM1314.9 544.5L1327.3 565.9L1302.6 565.9ZM1324.7 438.3L1337.1 459.7L1312.3 459.7ZM1334.5 418.3L1346.9 439.7L1322.1 439.7ZM1344.2 553.2L1356.6 574.7L1331.9 574.7ZM1354.0 397.1L1366.4 418.5L1341.6 418.5ZM1363.8 402.1L1376.2 423.5L1351.4 423.5ZM1373.5 333.3L1385.9 354.8L1361.2 354.8ZM1383.3 238.4L1395.7 259.8L1370.9 259.8ZM1393.1 138.4L1405.5 159.9L1380.7 159.9ZM1402.8 265.9L1415.2 287.3L1390.5 287.3ZM1412.6 148.4L1425.0 169.9L1400.2 169.9ZM1422.4 298.3L1434.8 319.8L1410.0 319.8ZM1432.1 504.5L1444.5 526.0L1419.8 526.0ZM1441.9 415.8L1454.3 437.2L1429.5 437.2ZM1451.7 497.0L1464.1 518.5L1439.3 518.5ZM1461.4 377.1L1473.8 398.5L1449.1 398.5ZM1471.2 262.1L1483.6 283.6L1458.8 283.6ZM1481.0 267.1L1493.4 288.6L1468.6 288.6ZM1490.7 89.7L1503.1 111.1L1478.4 111.1ZM1500.5 69.7L1512.9 91.1L1488.1 91.1ZM1510.3 40.9L1522.7 62.4L1497.9 62.4ZM1520.0 83.4L1532.4 104.9L1507.7 104.9ZM1529.8 129.7L1542.2 151.1L1517.4 151.1ZM1539.6 215.9L1552.0 237.3L1527.2 237.3ZM1549.3 380.8L1561.7 402.3L1537.0 402.3ZM1559.1 314.6L1571.5 336.0L1546.7 336.0ZM1568.9 429.5L1581.3 451.0L1556.5 451.0ZM1578.6 422.0L1591.0 443.5L1566.3 443.5ZM1588.4 309.6L1600.8 331.0L1576.0 331.0ZM1598.2 537.0L1610.6 558.4L1585.8 558.4ZM1607.9 492.0L1620.3 513.5L1595.6 513.5ZM1617.7 472.0L1630.1 493.5L1605.3 493.5ZM1627.5 474.5L1639.9 496.0L1615.1 496.0ZM1637.2 437.0L1649.6 458.5L1624.9 458.5ZM1647.0 359.6L1659.4 381.0L1634.6 381.0ZM1656.8 327.1L1669.2 348.5L1644.4 348.5ZM1666.5 243.4L1678.9 264.8L1654.2 264.8Z" stroke="#f0f" stroke-width="5.2" stroke-linejoin="miter" stroke-miterlimit="4"/>
<path d="M250.1 128.7H386.2" stroke="#000" stroke-width="7.0"/>
<path d="M250.1 207.5H270.3M276.5 207.5H286.0M292.3 207.5H313.5M319.3 207.5H329.0M336.1 207.5H346.2M351.8 207.5H372.3M377.7 207.5H386.2" stroke="#f00" stroke-width="5.5"/>
<path d="M305.4 207.5h26.0M318.4 194.5v26.0M309.2 198.3l18.4 18.4M309.2 216.7l18.4 -18.4" stroke="#f00" stroke-width="5.5"/>
<path d="M250.1 287.7H386.2" stroke="#00f" stroke-width="7.0"/>
<path d="M250.1 366.2H270.3M276.5 366.2H286.0M292.3 366.2H313.5M319.3 366.2H329.0M336.1 366.2H346.2M351.8 366.2H372.3M377.7 366.2H386.2" stroke="#f0f" stroke-width="5.5"/>
<path d="M318.4 351.9L330.8 373.3L306.0 373.3Z" stroke="#f0f" stroke-width="5.2" stroke-linejoin="miter" stroke-miterlimit="4"/>
</g>
<g font-size="67.0" text-anchor="middle">
<text x="200.9" y="1258.7">30</text>
<text x="445.1" y="1258.7">35</text>
<text x="689.2" y="1258.7">40</text>
<text x="933.4" y="1258.7">45</text>
<text x="1177.6" y="1258.7">50</text>
<text x="1421.8" y="1258.7">55</text>
<text x="1666.0" y="1258.7">60</text>
</g>
<g font-size="67.0" text-anchor="end">
<text x="175.5" y="1197.1">-5</text>
<text x="175.5" y="1072.2">0</text>
<text x="175.5" y="947.2">5</text>
<text x="175.5" y="822.3">10</text>
<text x="175.5" y="697.4">15</text>
<text x="175.5" y="572.4">20</text>
<text x="175.5" y="447.4">25</text>
<text x="175.5" y="322.5">30</text>
<text x="175.5" y="197.5">35</text>
<text x="175.5" y="72.6">40</text>
</g>
<g font-size="67.9">
<text x="395.4" y="153.7" style="fill:#000">Ship-RLGO</text>
<text x="395.4" y="232.5" style="fill:#000">Ship-Rec.</text>
<text x="395.4" y="312.7" style="fill:#000">Ship on sea-RLGO</text>
<text x="395.4" y="391.2" style="fill:#000">Ship on sea-Rec.</text>
</g>
<text font-size="74.0" text-anchor="middle" x="933.8" y="1345">Theta (degrees)</text>
<text font-size="74.0" text-anchor="middle" transform="translate(80 610.7) rotate(-90)">RCS (dBsm)</text>
</svg></body></html>
